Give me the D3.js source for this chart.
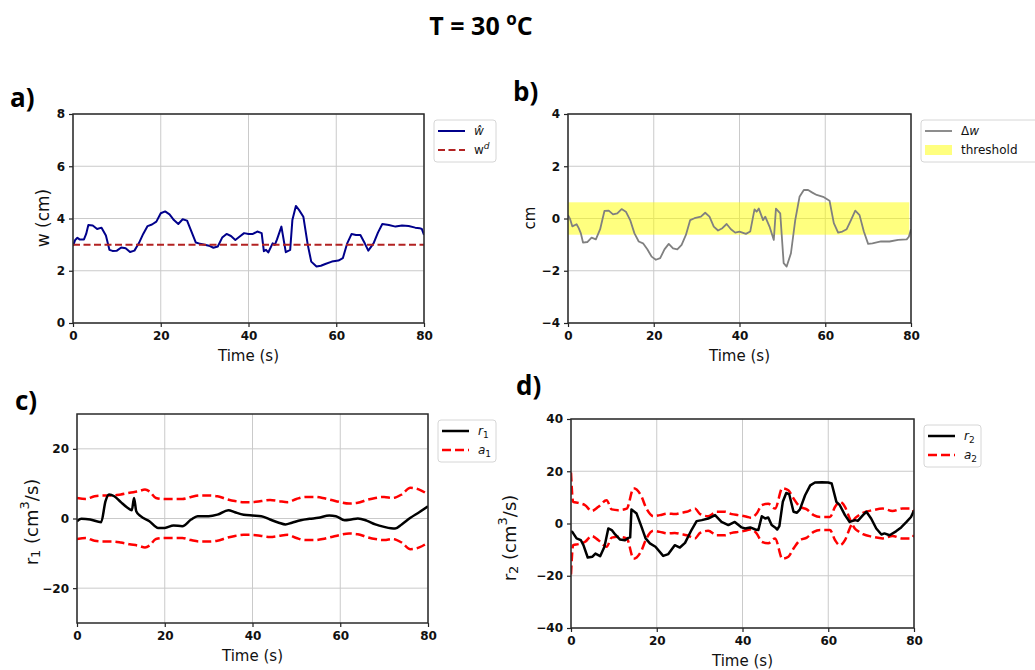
<!DOCTYPE html>
<html><head><meta charset="utf-8">
<script src="https://cdn.jsdelivr.net/npm/d3@7"></script>
<style>body{margin:0;background:#fff;} svg{display:block;}</style>
</head><body>
<svg id="chart" width="1035" height="670"></svg>
<script>
// ---------------- DATA ----------------
const timeTicks = [0, 20, 40, 60, 80];
const wTicks = [0, 2, 4, 6, 8];
const dwTicks = [-4, -2, 0, 2, 4];
const r1Ticks = [-20, 0, 20];
const r2Ticks = [-40, -20, 0, 20, 40];

// panel a: estimated width w-hat (cm) vs time (s)
const wHat = [[0,2.95],[0.5,3.18],[1,3.26],[1.5,3.2],[2.5,3.2],[3,3.41],[3.5,3.75],[4.5,3.73],[5.5,3.6],[6.5,3.65],[7.5,3.35],[8.3,2.8],[9,2.76],[10,2.77],[11,2.89],[12,2.86],[13,2.72],[14,2.77],[15,3.05],[16,3.41],[17,3.71],[18,3.77],[19,3.88],[20,4.2],[21,4.27],[22,4.16],[23,3.94],[24,3.79],[25,3.97],[26,3.92],[27,3.5],[28,3.08],[29,3.03],[31,2.96],[32,2.88],[33,2.93],[34,3.27],[35,3.41],[36,3.33],[37,3.18],[38,3.31],[39,3.44],[40,3.41],[41,3.41],[42,3.5],[43,3.44],[43.5,2.75],[44,2.8],[44.5,2.7],[45.5,3.05],[46,2.99],[46.5,3.2],[47.5,3.69],[48.5,2.71],[49.5,2.8],[50,3.94],[50.8,4.48],[51.5,4.33],[52.5,4.07],[53.5,3.0],[54.3,2.35],[55.5,2.16],[56.5,2.19],[57.5,2.26],[59,2.35],[60.5,2.39],[61.5,2.48],[62.5,3.05],[63.5,3.41],[64.5,3.37],[65.5,3.37],[66.5,3.05],[67.3,2.77],[68.5,3.05],[69.5,3.46],[70.5,3.79],[72,3.75],[73.5,3.69],[75,3.73],[76.5,3.71],[78,3.65],[79,3.63],[79.5,3.6],[80,3.37]];
const wDesired = [[0,3],[80,3]];

// panel b: delta w (cm) and threshold band
const deltaW = [[0,0.13],[0.5,-0.03],[1,-0.3],[2,-0.22],[2.5,-0.37],[3,-0.57],[3.5,-0.92],[4.5,-0.9],[5.5,-0.73],[6.5,-0.8],[7.5,-0.41],[8,-0.06],[8.5,0.29],[9.5,0.3],[10.5,0.16],[11.5,0.2],[12.5,0.36],[13.5,0.26],[14.5,-0.06],[15.5,-0.57],[16.5,-0.88],[17.5,-0.95],[18.5,-1.18],[19.5,-1.46],[20.5,-1.58],[21.5,-1.52],[22.5,-1.18],[23.5,-0.97],[24.5,-1.14],[25.5,-1.18],[26.5,-1.01],[27.5,-0.63],[28.5,-0.06],[29.5,0.01],[31,0.07],[32,0.22],[33,0.07],[34,-0.31],[35,-0.46],[36,-0.37],[37,-0.21],[38,-0.41],[39,-0.54],[40,-0.5],[41.5,-0.59],[42.5,-0.5],[43.5,0.35],[44,0.26],[44.5,0.38],[45.5,-0.06],[46,0.07],[47,-0.31],[48,-0.82],[48.5,0.38],[49.5,0.2],[50.3,-1.71],[51,-1.84],[52,-1.33],[53,-0.06],[54,0.83],[55,1.09],[56,1.09],[57,0.99],[58,0.9],[59.5,0.83],[61,0.68],[62,-0.18],[63,-0.54],[64,-0.5],[65,-0.41],[66,-0.06],[67,0.3],[68,0.13],[69,-0.5],[70,-0.97],[71,-0.95],[73,-0.88],[75,-0.88],[77,-0.82],[79,-0.8],[79.5,-0.7],[80,-0.41]];
const thresholdBand = [-0.62, 0.62];

// panel c: r1 and bound a1 (cm^3/s)
const r1 = [[0,-0.77],[1,-0.1],[3,-0.3],[5.5,-1.05],[6.5,5],[7.3,6.9],[8.5,6.4],[10,4.7],[11.5,3.1],[12.5,2.4],[13,5.9],[13.5,2.1],[14.5,0.67],[16.5,-0.77],[18.5,-2.7],[20,-2.7],[22,-2],[24,-2.2],[26,-0.3],[27.5,0.67],[30,0.67],[32,1.1],[34.5,2.4],[36,1.8],[38,1.1],[40,0.86],[42,0.67],[44,-0.3],[46,-1.2],[47.5,-1.7],[49,-1.2],[51,-0.5],[53,-0.1],[55,0.2],[57.5,0.86],[59,0.67],[61,-0.5],[62.5,-0.3],[64,0],[66,-0.6],[68,-1.7],[70,-2.4],[72.5,-2.9],[74,-1.7],[76,0.2],[78,1.8],[80,3.5]];
const a1 = [[0,5.9],[2,5.6],[4,6.4],[6,6.6],[8,6.6],[10,6.9],[12,7.4],[14,7.8],[15.5,8.3],[16.5,7.8],[18,5.9],[20,5.6],[22,5.6],[24,5.6],[26,6.2],[28,6.6],[30,6.6],[32,6.4],[34,5.6],[36,5],[38,4.7],[40,4.7],[42,5],[44,5.3],[46,5],[48,4.7],[50,5.6],[52,6.2],[54,6.2],[56,5.9],[58,5.3],[60,4.7],[62,4.3],[64,4.5],[66,5.3],[68,5.9],[70,6.2],[72,5.9],[74,6.9],[76,8.8],[78,8.3],[80,6.9]];

// panel d: r2 and bound a2 (cm^3/s)
const r2 = [[0,-3],[0.3,-3.2],[1.3,-5.7],[2.3,-6.4],[2.9,-8.3],[3.9,-13],[5,-12.7],[5.7,-11.5],[6.8,-12.5],[7.8,-8.9],[8.7,-1.9],[9.5,-2.5],[10.3,-4.2],[11.4,-6.1],[12.6,-6.4],[13.4,-5.5],[13.8,-5.3],[14.1,5.4],[15.3,3.8],[16.3,-0.6],[17.4,-5.7],[18.4,-7.6],[19.7,-8.9],[21.5,-12.4],[22.7,-11.7],[24.2,-8.3],[25.4,-9.2],[26.6,-7.4],[28.1,-2.5],[29.3,0.9],[30.5,1.3],[32,1.9],[33.6,3.2],[35.1,0.6],[36.7,-0.6],[38.2,0.6],[39.8,-1.5],[40.6,-1.9],[41.8,-1.5],[43,-2.3],[43.7,-2.5],[44.5,2.8],[45.3,1.9],[46,2.3],[46.8,-0.6],[47.6,-1.5],[48.1,-2.3],[48.6,-1],[49.4,8.3],[50.2,11.7],[50.9,11.2],[51.9,4.5],[52.7,4.1],[53.4,5.4],[54.6,10.8],[55.8,14.6],[56.9,15.7],[58.5,15.8],[60,15.7],[60.8,15.3],[61.9,8.3],[62.7,7],[63.9,3.2],[65,0.6],[66.2,1.3],[66.9,1],[68.1,3.2],[68.9,4.5],[70,1.9],[71.2,-1.9],[72.4,-4.2],[73.1,-3.8],[74.3,-4.5],[75.8,-3],[77,-1.5],[78.2,0.5],[79.3,2.5],[80,5]];
const a2 = [[0,19.5],[0.5,8.3],[1.7,7.9],[3.3,7],[4.8,4.8],[6.4,6.4],[8.3,8.9],[9.5,5.4],[11,5.1],[13,5.7],[14.6,13.5],[16.3,10.8],[17.6,5.7],[19.2,2.8],[20.7,3.2],[22.7,3.8],[24.2,3.6],[25.8,4.1],[27,4.5],[28.9,5.7],[30.1,3.6],[32,2.8],[34,4.5],[35.9,4.5],[37.5,3.6],[39,3.2],[41,2.6],[42,2.2],[43.3,3.8],[44.5,7],[46,7.6],[47.6,5.7],[49.3,13.5],[50.7,12.7],[51.9,9.6],[53.4,6.4],[55,5.4],[56.6,3.2],[58.1,2.5],[60.4,2.5],[61.6,6.4],[62.7,8.3],[63.9,6.4],[65,1.9],[66.2,-1.9],[67,-3],[68.1,-4.1],[70.4,-5.1],[72.7,-5.7],[75,-4.8],[77.3,-5.7],[79.3,-5.7],[80,-4.5]];

// ---------------- DRAWING ----------------
const svg = d3.select('#chart');
const FONT = '"DejaVu Sans", sans-serif';
const TITLE_FONT = '"Open Sans", "Liberation Sans", sans-serif';

// title
const title = svg.append('text').attr('x', 481).attr('y', 35).attr('text-anchor', 'middle')
  .style('font-family', TITLE_FONT).style('font-weight', 700).style('font-size', '25px').attr('fill', '#000');
title.append('tspan').text('T = 30 ');
title.append('tspan').attr('dy', -10).style('font-size', '17px').text('o');
title.append('tspan').attr('dy', 10).text('C');

// panel letters
[['a)', 10, 107], ['b)', 513, 101], ['c)', 15, 410], ['d)', 516, 395]].forEach(([t, x, y]) => {
  svg.append('text').attr('x', x).attr('y', y).text(t)
    .style('font-family', TITLE_FONT).style('font-weight', 700).style('font-size', '26px').attr('fill', '#000');
});

let clipId = 0;
function makePanel(p) {
  const g = svg.append('g');
  const x = d3.scaleLinear().domain([0, 80]).range([p.left, p.right]);
  const y = d3.scaleLinear().domain(p.yDomain).range([p.bottom, p.top]);

  // grid
  g.append('g').selectAll('line').data(timeTicks).join('line')
    .attr('x1', d => x(d)).attr('x2', d => x(d)).attr('y1', p.top).attr('y2', p.bottom)
    .attr('stroke', '#cacaca').attr('stroke-width', 1);
  g.append('g').selectAll('line').data(p.yTicks).join('line')
    .attr('y1', d => y(d)).attr('y2', d => y(d)).attr('x1', p.left).attr('x2', p.right)
    .attr('stroke', '#cacaca').attr('stroke-width', 1);

  const id = 'clip' + (clipId++);
  g.append('clipPath').attr('id', id).append('rect')
    .attr('x', p.left).attr('y', p.top).attr('width', p.right - p.left).attr('height', p.bottom - p.top);
  const plot = g.append('g').attr('clip-path', `url(#${id})`);
  p.draw(plot, x, y);

  // axes
  const xa = g.append('g').attr('transform', `translate(0,${p.bottom})`)
    .call(d3.axisBottom(x).tickValues(timeTicks).tickSize(4).tickPadding(4).tickFormat(d3.format('d')));
  const ya = g.append('g').attr('transform', `translate(${p.left},0)`)
    .call(d3.axisLeft(y).tickValues(p.yTicks).tickSize(4).tickPadding(4).tickFormat(d3.format('d')));
  [xa, ya].forEach(a => {
    a.select('.domain').remove();
    a.selectAll('.tick line').attr('stroke', '#222').attr('stroke-width', 1.2);
    a.selectAll('.tick text').style('font-family', FONT).style('font-weight', 700)
      .style('font-size', '12px').attr('fill', '#111');
  });
  // frame
  g.append('rect').attr('x', p.left).attr('y', p.top).attr('width', p.right - p.left)
    .attr('height', p.bottom - p.top).attr('fill', 'none').attr('stroke', '#2a2a2a').attr('stroke-width', 1.5);

  // x label
  g.append('text').attr('x', (p.left + p.right) / 2).attr('y', p.bottom + 38).attr('text-anchor', 'middle')
    .style('font-family', FONT).style('font-size', '15px').attr('fill', '#111').text('Time (s)');
  // y label
  const yl = g.append('text').attr('transform', `translate(${p.yLabelX},${p.yLabelY}) rotate(-90)`)
    .attr('text-anchor', 'middle').attr('dominant-baseline', 'central')
    .style('font-family', FONT).style('font-size', p.yLabelSize + 'px').attr('fill', '#111');
  p.yLabel(yl);

  // legend
  const lx = p.right + 10, ly = p.top + 6;
  const lg = g.append('g').attr('transform', `translate(${lx},${ly})`);
  lg.append('rect').attr('width', p.legendW).attr('height', 42).attr('rx', 3)
    .attr('fill', '#fff').attr('fill-opacity', 0.8).attr('stroke', '#d6d6d6').attr('stroke-width', 1);
  p.legend.forEach((it, i) => {
    const cy = 11 + i * 19;
    if (it.patch) {
      lg.append('rect').attr('x', 4).attr('y', cy - 5).attr('width', 27).attr('height', 10)
        .attr('fill', it.color).attr('fill-opacity', 0.5);
    } else {
      lg.append('line').attr('x1', 4).attr('x2', 31).attr('y1', cy).attr('y2', cy)
        .attr('stroke', it.color).attr('stroke-width', it.width).attr('stroke-dasharray', it.dash || null);
    }
    const t = lg.append('text').attr('x', 40).attr('y', cy + 4)
      .style('font-family', FONT).style('font-size', '12px').attr('fill', '#111');
    it.label(t);
  });
}

const line = (curve) => d3.line().x(d => d[0]).y(d => d[1]).curve(curve || d3.curveLinear);
function path(plot, x, y, data, opts) {
  plot.append('path').datum(data.map(d => [x(d[0]), y(opts.sign ? -d[1] : d[1])]))
    .attr('d', line(opts.curve))
    .attr('fill', 'none').attr('stroke', opts.color).attr('stroke-width', opts.width)
    .attr('stroke-dasharray', opts.dash || null).attr('stroke-linejoin', 'round');
}

// Panel a
makePanel({
  left: 73, right: 424, top: 114, bottom: 323, yDomain: [0, 8], yTicks: wTicks,
  yLabelX: 43, yLabelY: 218, yLabelSize: 17,
  yLabel: t => { t.text('w (cm)'); },
  draw: (plot, x, y) => {
    path(plot, x, y, wHat, { color: '#00008b', width: 2 });
    path(plot, x, y, wDesired, { color: '#b22222', width: 2, dash: '7,3.5' });
  },
  legendW: 62,
  legend: [
    { color: '#00008b', width: 2, label: t => { t.append('tspan').style('font-style', 'italic').text('ŵ'); } },
    { color: '#b22222', width: 2, dash: '7,3.5', label: t => {
      t.append('tspan').text('w');
      t.append('tspan').attr('dy', -5).style('font-size', '9px').style('font-style', 'italic').text('d');
    } }
  ]
});

// Panel b
makePanel({
  left: 568, right: 911, top: 114, bottom: 323, yDomain: [-4, 4], yTicks: dwTicks,
  yLabelX: 530, yLabelY: 218, yLabelSize: 15,
  yLabel: t => { t.text('cm'); },
  draw: (plot, x, y) => {
    plot.append('rect').attr('x', x(0)).attr('width', x(79.6) - x(0))
      .attr('y', y(thresholdBand[1])).attr('height', y(thresholdBand[0]) - y(thresholdBand[1]))
      .attr('fill', '#ffff00').attr('fill-opacity', 0.5);
    path(plot, x, y, deltaW, { color: '#808080', width: 1.8 });
  },
  legendW: 120,
  legend: [
    { color: '#808080', width: 1.8, label: t => {
      t.append('tspan').text('Δ');
      t.append('tspan').style('font-style', 'italic').text('w');
    } },
    { color: '#ffff00', patch: true, label: t => { t.text('threshold'); } }
  ]
});

// Panel c
makePanel({
  left: 77, right: 428, top: 414, bottom: 623, yDomain: [-30, 30], yTicks: r1Ticks,
  yLabelX: 31, yLabelY: 522, yLabelSize: 18,
  yLabel: t => {
    t.append('tspan').text('r');
    t.append('tspan').attr('dy', 4).style('font-size', '13px').text('1');
    t.append('tspan').attr('dy', -4).text(' (cm');
    t.append('tspan').attr('dy', -7).style('font-size', '13px').text('3');
    t.append('tspan').attr('dy', 7).text('/s)');
  },
  draw: (plot, x, y) => {
    path(plot, x, y, a1, { color: '#ff0000', width: 2.5, dash: '9,4', curve: d3.curveMonotoneX });
    path(plot, x, y, a1, { color: '#ff0000', width: 2.5, dash: '9,4', curve: d3.curveMonotoneX, sign: true });
    path(plot, x, y, r1, { color: '#000', width: 2.5, curve: d3.curveMonotoneX });
  },
  legendW: 58,
  legend: [
    { color: '#000', width: 2.5, label: t => {
      t.append('tspan').style('font-style', 'italic').text('r');
      t.append('tspan').attr('dy', 3).style('font-size', '9px').text('1');
    } },
    { color: '#ff0000', width: 2.5, dash: '9,4', label: t => {
      t.append('tspan').style('font-style', 'italic').text('a');
      t.append('tspan').attr('dy', 3).style('font-size', '9px').text('1');
    } }
  ]
});

// Panel d
makePanel({
  left: 571, right: 914, top: 419, bottom: 628, yDomain: [-40, 40], yTicks: r2Ticks,
  yLabelX: 509, yLabelY: 538, yLabelSize: 18,
  yLabel: t => {
    t.append('tspan').text('r');
    t.append('tspan').attr('dy', 4).style('font-size', '13px').text('2');
    t.append('tspan').attr('dy', -4).text(' (cm');
    t.append('tspan').attr('dy', -7).style('font-size', '13px').text('3');
    t.append('tspan').attr('dy', 7).text('/s)');
  },
  draw: (plot, x, y) => {
    path(plot, x, y, a2, { color: '#ff0000', width: 2.5, dash: '9,4', curve: d3.curveMonotoneX });
    path(plot, x, y, a2, { color: '#ff0000', width: 2.5, dash: '9,4', curve: d3.curveMonotoneX, sign: true });
    path(plot, x, y, r2, { color: '#000', width: 2.5 });
  },
  legendW: 57,
  legend: [
    { color: '#000', width: 2.5, label: t => {
      t.append('tspan').style('font-style', 'italic').text('r');
      t.append('tspan').attr('dy', 3).style('font-size', '9px').text('2');
    } },
    { color: '#ff0000', width: 2.5, dash: '9,4', label: t => {
      t.append('tspan').style('font-style', 'italic').text('a');
      t.append('tspan').attr('dy', 3).style('font-size', '9px').text('2');
    } }
  ]
});
</script>
</body></html>
